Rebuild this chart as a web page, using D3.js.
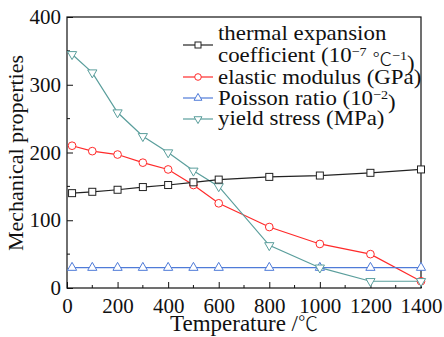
<!DOCTYPE html>
<html lang="en">
<head>
<meta charset="UTF-8">
<title>Mechanical properties vs temperature</title>
<script src="https://d3js.org/d3.v7.min.js"></script>
<style>
  body { margin: 0; background: #fff; }
  text { font-family: "Liberation Serif", serif; fill: #111; }
  .deg { font-family: "Noto Sans CJK SC", sans-serif; font-weight: 300; }
</style>
</head>
<body>
<svg id="chart" width="444" height="337"></svg>
<script>
// data
const temps = [20, 100, 200, 300, 400, 500, 600, 800, 1000, 1200, 1400];
const thermal = [140, 142, 145, 149, 152, 156, 160, 164, 166, 170, 175];
const elastic = [210, 202, 197, 185, 175, 152, 125, 90, 65, 50, 10];
const poisson = [30, 30, 30, 30, 30, 30, 30, 30, 30, 30, 30];
const yieldStress = [345, 318, 259, 224, 200, 173, 150, 63, 30, 10, 10];

const xTicks = [0, 200, 400, 600, 800, 1000, 1200, 1400];
const yTicks = [0, 100, 200, 300, 400];

const series = [
  { name: "elastic", values: elastic, color: "#ff2a2a", marker: "circle" },
  { name: "poisson", values: poisson, color: "#4f7bd8", marker: "up" },
  { name: "yield", values: yieldStress, color: "#5a9e9c", marker: "down" },
  { name: "thermal", values: thermal, color: "#222", marker: "square" }
];

const FONT = "'Liberation Serif', serif";
const svg = d3.select("#chart");
const plotL = 67, plotR = 421, plotT = 17, plotB = 288;

const x = d3.scaleLinear().domain([0, 1400]).range([plotL, plotR]);
const y = d3.scaleLinear().domain([0, 400]).range([plotB, plotT]);

// minor ticks (inward)
const g = svg.append("g");
d3.range(100, 1400, 200).forEach(v => {
  g.append("line").attr("x1", x(v)).attr("x2", x(v))
    .attr("y1", plotB).attr("y2", plotB - 3).attr("stroke", "#111");
});
d3.range(50, 400, 100).forEach(v => {
  g.append("line").attr("x1", plotL).attr("x2", plotL + 3)
    .attr("y1", y(v)).attr("y2", y(v)).attr("stroke", "#111");
});

// axes with inward ticks
const xAxis = svg.append("g").attr("transform", `translate(0,${plotB})`)
  .call(d3.axisBottom(x).tickValues(xTicks).tickFormat(d3.format("d"))
    .tickSizeInner(-6).tickSizeOuter(0).tickPadding(10));
const yAxis = svg.append("g").attr("transform", `translate(${plotL},0)`)
  .call(d3.axisLeft(y).tickValues(yTicks).tickFormat(d3.format("d"))
    .tickSizeInner(-6).tickSizeOuter(0).tickPadding(6));
[xAxis, yAxis].forEach(a => {
  a.attr("font-family", null).attr("font-size", null);
  a.select(".domain").remove();
  a.selectAll("line").attr("stroke", "#111");
  a.selectAll("text").style("font-family", FONT)
    .style("font-size", "21px").attr("fill", "#111");
});
xAxis.selectAll("text").attr("dy", "0.71em");

// frame
svg.append("rect").attr("x", plotL).attr("y", plotT)
  .attr("width", plotR - plotL).attr("height", plotB - plotT)
  .attr("fill", "none").attr("stroke", "#111").attr("stroke-width", 1.2);

function drawMarker(sel, type, color, s) {
  if (type === "circle") {
    sel.append("circle").attr("r", s * 0.55).attr("fill", "#fff").attr("stroke", color);
  } else if (type === "square") {
    sel.append("rect").attr("x", -s / 2).attr("y", -s / 2).attr("width", s).attr("height", s)
      .attr("fill", "#fff").attr("stroke", color);
  } else {
    const sym = d3.symbol().type(d3.symbolTriangle).size(s * s * 0.75);
    sel.append("path").attr("d", sym())
      .attr("transform", type === "down" ? "rotate(180)" : null)
      .attr("fill", "#fff").attr("stroke", color);
  }
}

const line = d3.line().x((d, i) => x(temps[i])).y(d => y(d));

series.forEach(s => {
  svg.append("path").datum(s.values).attr("d", line)
    .attr("fill", "none").attr("stroke", s.color).attr("stroke-width", 1.2);
});
series.forEach(s => {
  s.values.forEach((v, i) => {
    const m = svg.append("g").attr("transform", `translate(${x(temps[i])},${y(v)})`);
    drawMarker(m, s.marker, s.color, 7);
  });
});

// legend
const legendRows = [
  { marker: "square", color: "#222", y: 45 },
  { marker: "circle", color: "#ff2a2a", y: 77 },
  { marker: "up", color: "#4f7bd8", y: 98 },
  { marker: "down", color: "#5a9e9c", y: 119 }
];
const leg = svg.append("g");
legendRows.forEach(r => {
  leg.append("line").attr("x1", 183).attr("x2", 213).attr("y1", r.y).attr("y2", r.y)
    .attr("stroke", r.color).attr("stroke-width", 1.2);
  drawMarker(leg.append("g").attr("transform", `translate(198,${r.y})`), r.marker, r.color, 6);
});
// the reference face is wider than Times, so stretch the legend text a little
const legTxt = leg.append("g").attr("transform", "translate(218,0) scale(1.09,1)");
function legText(yy) {
  return legTxt.append("text").attr("x", 0).attr("y", yy).attr("dy", "0.35em")
    .style("font-size", "21px");
}
legText(33).text("thermal expansion");
const t2 = legText(55);
t2.append("tspan").text("coefficient (10");
t2.append("tspan").attr("dy", "-0.45em").style("font-size", "13px").text("−7");
t2.append("tspan").attr("dy", "0.45em").text(" ");
t2.append("tspan").attr("class", "deg").style("font-size", "18px").text("℃");
t2.append("tspan").attr("dy", "-0.45em").style("font-size", "13px").text("−1");
t2.append("tspan").attr("dy", "0.45em").text(")");
legText(77).text("elastic modulus (GPa)");
const t4 = legText(98);
t4.append("tspan").text("Poisson ratio (10");
t4.append("tspan").attr("dy", "-0.45em").style("font-size", "13px").text("−2");
t4.append("tspan").attr("dy", "0.45em").text(")");
legText(118).text("yield stress (MPa)");

// axis titles
const xt = svg.append("text").attr("x", (plotL + plotR) / 2).attr("y", 331)
  .attr("text-anchor", "middle").style("font-size", "23px");
xt.append("tspan").text("Temperature /");
xt.append("tspan").attr("class", "deg").style("font-size", "20px").text("℃");
svg.append("text").attr("transform", `translate(23,153) rotate(-90)`)
  .attr("text-anchor", "middle").style("font-size", "22px").text("Mechanical properties");
</script>
</body>
</html>
